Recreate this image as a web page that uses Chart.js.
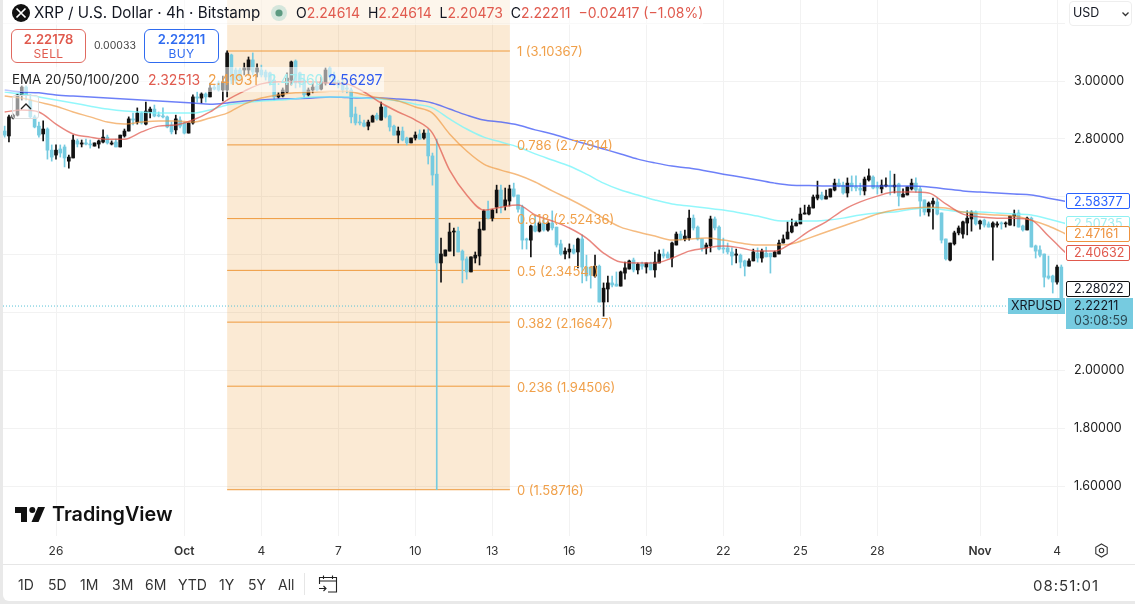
<!DOCTYPE html>
<html>
<head>
<meta charset="utf-8">
<title>XRPUSD</title>
<script src="https://cdn.jsdelivr.net/npm/chart.js@4"></script>
<style>
	html, body { margin: 0; padding: 0; background: #e9e9e9; font-family: Inter, sans-serif; color: #131722; overflow: hidden; }
	#card { position: absolute; left: 3px; top: 0; width: 1132px; height: 601px; background: #fff; border-bottom-left-radius: 6px; }
	#myChart { position: absolute; left: 0; top: 0; }
	.t { position: absolute; white-space: nowrap; line-height: 1; }
	.strip { position: absolute; background: rgba(255,255,255,.55); }
	.box { position: absolute; box-sizing: border-box; border-radius: 6px; border: 1px solid; text-align: center; line-height: 1; }
	.red { color: #e05a4e; }
	.org { color: #f0a04a; }
	.cyn { color: #a4eef0; }
	.blu { color: #2f5bf0; }
</style>
</head>
<body>
<div id="card"></div>
<canvas id="myChart" width="1135" height="604"></canvas>

<div class="strip" style="left:3px;top:0;width:700px;height:25px"></div>
<div class="strip" style="left:3px;top:67px;width:381px;height:25px"></div>

<svg style="position:absolute;left:12px;top:4px" width="18" height="18" viewBox="0 0 18 18">
	<circle cx="9" cy="9" r="9" fill="#111"/>
	<path d="M4.5 4.5 L13.5 13.5 M13.5 4.5 L4.5 13.5" stroke="#fff" stroke-width="1.7"/>
</svg>
<div class="t" style="left:34px;top:5px;font-size:15.2px">XRP / U.S. Dollar · 4h · Bitstamp</div>
<svg style="position:absolute;left:270px;top:4px" width="18" height="18" viewBox="0 0 18 18">
	<circle cx="9" cy="9" r="8" fill="#d4e6dc"/>
	<circle cx="9" cy="9" r="3.6" fill="#5c9a80"/>
</svg>
<div class="t" style="left:296px;top:6px;font-size:14px">O<span class="red">2.24614</span>&nbsp; H<span class="red">2.24614</span>&nbsp; L<span class="red">2.20473</span>&nbsp; C<span class="red">2.22211</span>&nbsp; <span class="red">−0.02417 (−1.08%)</span></div>

<div class="box" style="left:11px;top:29px;width:75px;height:34px;border-color:#e06a60;color:#e05a4e">
	<div style="font-size:13px;font-weight:600;margin-top:3px">2.22178</div>
	<div style="font-size:12px;letter-spacing:.4px;margin-top:2px">SELL</div>
</div>
<div class="t" style="left:94px;top:41px;font-size:10.5px;color:#444">0.00033</div>
<div class="box" style="left:144px;top:29px;width:75px;height:34px;border-color:#2f6bf0;color:#2f6bf0">
	<div style="font-size:13px;font-weight:600;margin-top:3px">2.22211</div>
	<div style="font-size:12px;letter-spacing:.4px;margin-top:2px">BUY</div>
</div>

<div class="t" style="left:12px;top:73px;font-size:13.3px;color:#222">EMA 20/50/100/200</div>
<div class="t red" style="left:148px;top:73px;font-size:14px">2.32513</div>
<div class="t org" style="left:208px;top:73px;font-size:14px">2.41931</div>
<div class="t cyn" style="left:268px;top:73px;font-size:14px">2.47560</div>
<div class="t blu" style="left:328px;top:73px;font-size:14px">2.56297</div>

<div style="position:absolute;left:12px;top:95px;width:27px;height:24px;box-sizing:border-box;border:1px solid #ddd;border-radius:3px;background:rgba(255,255,255,.55)">
	<svg style="position:absolute;left:6px;top:6px" width="14" height="9" viewBox="0 0 14 9"><path d="M2 7 L7 2 L12 7" fill="none" stroke="#222" stroke-width="1.3"/></svg>
</div>

<div style="position:absolute;left:1069px;top:1px;width:63px;height:25px;box-sizing:border-box;border:1px solid #eee;border-radius:4px"></div>
<div class="t" style="left:1073px;top:7px;font-size:12.5px">USD</div>
<svg style="position:absolute;left:1121px;top:11px" width="9" height="6" viewBox="0 0 9 6"><path d="M1.5 1.5 L4.5 4.5 L7.5 1.5" fill="none" stroke="#333" stroke-width="1.3"/></svg>

<svg style="position:absolute;left:14px;top:506px" width="32" height="17" viewBox="0 0 32 17">
	<path d="M1 1 H13 V16 H7 V7 H1 Z" fill="#111"/>
	<circle cx="18.3" cy="4" r="3" fill="#111"/>
	<path d="M24 1 H31 L24.5 16 H17.5 Z" fill="#111"/>
</svg>
<div class="t" style="left:52px;top:505px;font-size:19.8px;font-weight:600;color:#111">TradingView</div>

<svg style="position:absolute;left:1094px;top:543px" width="15" height="15" viewBox="0 0 15 15">
	<path d="M7.5 1 L13.2 4.2 V10.8 L7.5 14 L1.8 10.8 V4.2 Z" fill="none" stroke="#333" stroke-width="1.1"/>
	<circle cx="7.5" cy="7.5" r="2.2" fill="none" stroke="#333" stroke-width="1.1"/>
</svg>

<div style="position:absolute;left:3px;top:564px;width:1132px;height:1px;background:#e6e6e6"></div>
<div class="t" style="left:18px;top:578px;font-size:14px;color:#333">1D</div>
<div class="t" style="left:48px;top:578px;font-size:14px;color:#333">5D</div>
<div class="t" style="left:80px;top:578px;font-size:14px;color:#333">1M</div>
<div class="t" style="left:112px;top:578px;font-size:14px;color:#333">3M</div>
<div class="t" style="left:145px;top:578px;font-size:14px;color:#333">6M</div>
<div class="t" style="left:178px;top:578px;font-size:14px;color:#333">YTD</div>
<div class="t" style="left:219px;top:578px;font-size:14px;color:#333">1Y</div>
<div class="t" style="left:248px;top:578px;font-size:14px;color:#333">5Y</div>
<div class="t" style="left:278px;top:578px;font-size:14px;color:#333">All</div>
<div style="position:absolute;left:304px;top:573px;width:1px;height:22px;background:#e6e6e6"></div>
<svg style="position:absolute;left:318px;top:574px" width="20" height="20" viewBox="0 0 20 20">
	<path d="M1.5 10 V3.5 H18.5 V18 H10 M1.5 7 H18.5 M5.5 1.5 V5 M14.5 1.5 V5 M1 14.5 H8 M5.5 12 L8 14.5 L5.5 17" fill="none" stroke="#222" stroke-width="1.1"/>
</svg>
<div class="t" style="left:1033px;top:578px;font-size:15px;letter-spacing:1px;color:#333">08:51:01</div>

<script>
const opens = [
	2.827,2.810,2.872,2.882,2.952,2.979,2.934,2.876,2.844,2.817,
	2.834,2.761,2.744,2.765,2.772,2.723,2.734,2.793,2.782,2.786,
	2.782,2.775,2.782,2.789,2.806,2.782,2.789,2.772,2.810,2.827,
	2.869,2.858,2.889,2.851,2.893,2.903,2.882,2.879,2.876,2.848,
	2.831,2.865,2.855,2.820,2.855,2.945,2.941,2.955,2.945,2.979,
	2.993,2.969,2.969,3.090,3.038,3.038,3.038,3.038,3.073,3.031,
	3.038,3.031,3.028,3.003,2.945,2.948,2.962,3.003,3.069,3.028,
	3.003,2.952,2.969,2.983,2.972,2.993,3.045,3.021,2.997,2.993,
	2.976,2.969,2.886,2.858,2.855,2.844,2.858,2.882,2.865,2.910,
	2.879,2.844,2.813,2.827,2.803,2.786,2.803,2.817,2.803,2.820,
	2.741,2.678,2.371,2.395,2.412,2.478,2.481,2.412,2.385,2.340,
	2.388,2.395,2.485,2.551,2.526,2.564,2.623,2.568,2.585,2.627,
	2.606,2.564,2.454,2.450,2.499,2.481,2.509,2.485,2.509,2.495,
	2.437,2.402,2.409,2.419,2.409,2.454,2.357,2.357,2.326,2.360,
	2.236,2.281,2.302,2.298,2.291,2.336,2.350,2.381,2.347,2.367,
	2.357,2.371,2.347,2.371,2.402,2.402,2.388,2.433,2.471,2.454,
	2.457,2.526,2.495,2.454,2.423,2.430,2.523,2.495,2.423,2.423,
	2.409,2.398,2.398,2.378,2.360,2.378,2.405,2.388,2.405,2.405,
	2.392,2.402,2.440,2.454,2.478,2.499,2.506,2.540,2.540,2.561,
	2.595,2.606,2.592,2.599,2.623,2.647,2.640,2.613,2.647,2.634,
	2.630,2.620,2.658,2.668,2.634,2.627,2.637,2.640,2.634,2.644,
	2.599,2.606,2.627,2.647,2.627,2.589,2.547,2.575,2.582,2.544,
	2.454,2.381,2.437,2.475,2.471,2.509,2.523,2.547,2.506,2.519,
	2.506,2.495,2.502,2.509,2.506,2.502,2.533,2.544,2.499,2.485,
	2.526,2.430,2.416,2.402,2.326,2.326,2.305,2.357
];
const highs = [
	2.844,2.882,2.886,2.955,2.983,2.983,2.952,2.882,2.858,2.862,
	2.838,2.779,2.779,2.779,2.779,2.744,2.813,2.799,2.796,2.799,
	2.796,2.786,2.796,2.831,2.813,2.793,2.799,2.813,2.834,2.876,
	2.889,2.907,2.893,2.927,2.910,2.917,2.893,2.907,2.879,2.858,
	2.882,2.876,2.858,2.855,2.952,2.962,2.959,2.959,2.993,2.986,
	3.000,3.017,3.104,3.093,3.045,3.045,3.062,3.083,3.097,3.059,
	3.055,3.038,3.031,3.021,2.959,2.976,3.028,3.069,3.073,3.031,
	3.021,2.976,2.993,2.997,3.014,3.045,3.048,3.031,3.003,3.003,
	2.986,2.976,2.910,2.882,2.865,2.865,2.882,2.889,2.927,2.913,
	2.882,2.848,2.841,2.841,2.806,2.803,2.824,2.831,2.831,2.834,
	2.751,2.799,2.457,2.416,2.509,2.492,2.495,2.416,2.392,2.392,
	2.409,2.513,2.554,2.585,2.557,2.640,2.640,2.630,2.640,2.647,
	2.606,2.571,2.457,2.502,2.533,2.513,2.526,2.513,2.551,2.495,
	2.450,2.423,2.437,2.433,2.457,2.468,2.398,2.357,2.398,2.364,
	2.302,2.326,2.326,2.340,2.343,2.374,2.381,2.388,2.371,2.374,
	2.371,2.374,2.409,2.416,2.419,2.409,2.443,2.478,2.481,2.485,
	2.554,2.537,2.499,2.454,2.440,2.533,2.530,2.499,2.457,2.440,
	2.423,2.419,2.402,2.381,2.385,2.419,2.423,2.419,2.426,2.405,
	2.412,2.450,2.468,2.513,2.523,2.516,2.561,2.571,2.571,2.606,
	2.654,2.616,2.623,2.627,2.661,2.661,2.651,2.665,2.672,2.672,
	2.647,2.668,2.696,2.672,2.651,2.658,2.665,2.689,2.678,2.647,
	2.627,2.634,2.661,2.665,2.634,2.589,2.582,2.595,2.595,2.544,
	2.454,2.440,2.481,2.499,2.516,2.551,2.551,2.551,2.519,2.523,
	2.513,2.513,2.513,2.513,2.513,2.533,2.554,2.554,2.502,2.530,
	2.530,2.433,2.430,2.402,2.395,2.329,2.364,2.364
];
const lows = [
	2.806,2.789,2.869,2.879,2.934,2.934,2.872,2.838,2.806,2.793,
	2.730,2.723,2.730,2.737,2.703,2.699,2.734,2.772,2.772,2.779,
	2.768,2.775,2.768,2.786,2.782,2.779,2.772,2.772,2.806,2.827,
	2.848,2.851,2.851,2.848,2.872,2.876,2.876,2.872,2.838,2.817,
	2.817,2.838,2.817,2.820,2.851,2.927,2.924,2.927,2.945,2.969,
	2.965,2.931,2.945,2.990,2.993,3.003,3.021,3.021,3.021,3.014,
	3.014,3.003,2.986,2.934,2.941,2.945,2.959,2.986,2.976,2.979,
	2.941,2.948,2.959,2.965,2.969,2.986,3.003,2.986,2.976,2.962,
	2.959,2.855,2.848,2.848,2.841,2.831,2.858,2.865,2.865,2.872,
	2.827,2.813,2.786,2.793,2.779,2.786,2.796,2.799,2.799,2.713,
	2.640,1.587,2.305,2.395,2.412,2.395,2.409,2.302,2.315,2.340,
	2.371,2.364,2.485,2.523,2.516,2.544,2.544,2.554,2.568,2.599,
	2.547,2.419,2.419,2.392,2.478,2.478,2.481,2.481,2.485,2.426,
	2.398,2.385,2.388,2.402,2.354,2.302,2.309,2.284,2.322,2.236,
	2.187,2.236,2.288,2.291,2.291,2.315,2.350,2.340,2.333,2.350,
	2.336,2.347,2.322,2.371,2.388,2.388,2.357,2.433,2.450,2.447,
	2.450,2.485,2.450,2.412,2.402,2.409,2.485,2.416,2.405,2.402,
	2.364,2.371,2.354,2.326,2.360,2.378,2.374,2.374,2.392,2.336,
	2.392,2.402,2.440,2.454,2.475,2.499,2.506,2.540,2.537,2.561,
	2.589,2.589,2.592,2.599,2.620,2.634,2.609,2.599,2.620,2.620,
	2.606,2.606,2.654,2.627,2.609,2.613,2.634,2.606,2.613,2.568,
	2.599,2.606,2.623,2.616,2.533,2.537,2.533,2.488,2.537,2.440,
	2.381,2.378,2.433,2.468,2.457,2.468,2.481,2.502,2.488,2.495,
	2.495,2.381,2.495,2.488,2.495,2.502,2.499,2.495,2.481,2.485,
	2.426,2.388,2.392,2.288,2.315,2.267,2.298,2.205
];
const closes = [
	2.813,2.876,2.882,2.952,2.979,2.952,2.876,2.841,2.813,2.834,
	2.761,2.737,2.761,2.751,2.734,2.737,2.796,2.782,2.786,2.782,
	2.779,2.786,2.793,2.806,2.786,2.786,2.772,2.813,2.827,2.869,
	2.865,2.889,2.855,2.896,2.903,2.879,2.879,2.876,2.841,2.824,
	2.869,2.844,2.820,2.855,2.945,2.941,2.955,2.945,2.976,2.972,
	2.969,2.997,3.097,3.003,3.003,3.010,3.045,3.073,3.031,3.045,
	3.021,3.014,2.993,2.945,2.952,2.969,3.010,3.066,2.993,2.993,
	2.952,2.969,2.979,2.969,2.997,3.038,3.014,2.993,2.986,2.969,
	2.972,2.876,2.855,2.855,2.844,2.858,2.879,2.869,2.910,2.876,
	2.841,2.813,2.827,2.796,2.786,2.803,2.813,2.799,2.820,2.741,
	2.675,2.371,2.402,2.416,2.478,2.481,2.409,2.381,2.340,2.392,
	2.398,2.488,2.551,2.526,2.554,2.623,2.568,2.589,2.627,2.602,
	2.557,2.450,2.450,2.499,2.481,2.509,2.485,2.509,2.492,2.433,
	2.402,2.412,2.419,2.405,2.454,2.357,2.326,2.329,2.360,2.236,
	2.284,2.302,2.295,2.291,2.340,2.354,2.378,2.347,2.367,2.360,
	2.371,2.347,2.374,2.402,2.395,2.388,2.440,2.471,2.454,2.464,
	2.526,2.492,2.454,2.423,2.433,2.523,2.492,2.419,2.419,2.409,
	2.395,2.402,2.374,2.360,2.378,2.409,2.388,2.412,2.392,2.392,
	2.409,2.440,2.454,2.478,2.499,2.509,2.540,2.544,2.564,2.599,
	2.606,2.592,2.602,2.627,2.647,2.637,2.613,2.647,2.634,2.630,
	2.623,2.661,2.672,2.630,2.630,2.640,2.640,2.634,2.640,2.602,
	2.609,2.634,2.647,2.623,2.585,2.547,2.578,2.585,2.540,2.450,
	2.385,2.440,2.475,2.492,2.513,2.526,2.547,2.506,2.516,2.502,
	2.495,2.509,2.506,2.506,2.509,2.533,2.540,2.495,2.485,2.526,
	2.426,2.412,2.398,2.322,2.319,2.305,2.357,2.22211
];

// EMA readings, one every 4 bars
const emaStep = 4;
const ema20 = [
	2.893,2.900,2.893,2.851,2.817,2.806,2.799,2.799,2.824,2.844,
	2.848,2.865,2.893,2.934,2.965,2.990,2.997,2.997,2.997,2.993,
	2.990,2.962,2.924,2.893,2.865,2.820,2.692,2.606,2.554,2.564,
	2.571,2.537,2.516,2.492,2.457,2.405,2.374,2.371,2.371,2.388,
	2.412,2.423,2.430,2.423,2.412,2.412,2.440,2.481,2.513,2.554,
	2.582,2.602,2.616,2.616,2.613,2.575,2.540,2.530,2.526,2.526,
	2.519,2.464,2.40632
];
const ema50 = [
	2.948,2.941,2.927,2.913,2.893,2.876,2.858,2.851,2.858,2.862,
	2.862,2.858,2.872,2.889,2.920,2.941,2.952,2.959,2.962,2.965,
	2.965,2.952,2.941,2.931,2.910,2.889,2.817,2.758,2.713,2.692,
	2.675,2.651,2.620,2.592,2.561,2.526,2.495,2.478,2.464,2.450,
	2.454,2.457,2.450,2.440,2.433,2.433,2.437,2.457,2.478,2.499,
	2.519,2.540,2.554,2.561,2.564,2.561,2.547,2.540,2.537,2.533,
	2.519,2.499,2.47161
];
const ema100 = [
	2.962,2.955,2.945,2.934,2.924,2.913,2.903,2.896,2.893,2.889,
	2.889,2.889,2.900,2.917,2.924,2.931,2.934,2.939,2.945,2.945,
	2.945,2.941,2.938,2.931,2.920,2.907,2.869,2.834,2.806,2.789,
	2.772,2.748,2.727,2.706,2.678,2.647,2.623,2.606,2.589,2.575,
	2.568,2.561,2.554,2.544,2.533,2.519,2.516,2.516,2.519,2.526,
	2.537,2.544,2.547,2.557,2.561,2.554,2.547,2.547,2.544,2.540,
	2.537,2.523,2.50735
];
const ema200 = [
	2.969,2.962,2.959,2.952,2.948,2.945,2.941,2.938,2.934,2.931,
	2.927,2.924,2.920,2.924,2.931,2.934,2.938,2.939,2.941,2.945,
	2.943,2.941,2.941,2.938,2.934,2.924,2.903,2.882,2.865,2.858,
	2.848,2.831,2.817,2.799,2.782,2.765,2.748,2.730,2.717,2.706,
	2.699,2.689,2.678,2.668,2.658,2.647,2.640,2.639,2.637,2.637,
	2.637,2.637,2.637,2.637,2.634,2.627,2.620,2.616,2.613,2.609,
	2.606,2.595,2.58377
];

const fibLevels = ["1", "0.786", "0.618", "0.5", "0.382", "0.236", "0"];
const fibPrices = [3.10367, 2.77914, 2.52436, 2.34541, 2.16647, 1.94506, 1.58716];
const fibStartBar = 52;
const fibEndBar = 118.1;

const yTicks = [3.2, 3.0, 2.8, 2.6, 2.4, 2.2, 2.0, 1.8, 1.6];
const yLabelled = [3.0, 2.8, 2.0, 1.8, 1.6];
const xTickBars = [12, 42, 60, 78, 96, 114, 132, 150, 168, 186, 204, 228, 246];
const xTickLabels = ["26", "Oct", "4", "7", "10", "13", "16", "19", "22", "25", "28", "Nov", "4"];
const boldTicks = ["Oct", "Nov"];

const lastPrice = 2.22211;
const prevClose = 2.28022;
const countdown = "03:08:59";
const symbol = "XRPUSD";

const upColor = "#111111";
const downColor = "#76cbe0";
const fibColor = "#f0a04a";
const fontName = "Inter, sans-serif";

const emaBadges = [
	{ value: ema200[ema200.length - 1], color: "#2962ff", text: "#2962ff" },
	{ value: ema100[ema100.length - 1], color: "#8ff0f2", text: "#a0eef0" },
	{ value: ema50[ema50.length - 1], color: "#ee9340", text: "#ee9340" },
	{ value: ema20[ema20.length - 1], color: "#e0594d", text: "#e0594d" },
	{ value: prevClose, color: "#111111", text: "#131722" }
];

function emaDataset(values, color, order) {
	return {
		type: "line",
		data: values.map((v, k) => ({ x: k * emaStep, y: v })),
		borderColor: color,
		borderWidth: 1.5,
		pointRadius: 0,
		cubicInterpolationMode: "monotone",
		order: order
	};
}

function fibDataset(price) {
	return {
		type: "line",
		data: [{ x: fibStartBar, y: price }, { x: fibEndBar, y: price }],
		borderColor: "#ef9a3c",
		borderWidth: 1,
		pointRadius: 0,
		order: 9
	};
}

const candleColors = opens.map((o, i) => closes[i] >= o ? upColor : downColor);

const fibLabels = {
	id: "fibLabels",
	afterDatasetsDraw(chart) {
		const { ctx, scales: { x, y } } = chart;
		ctx.save();
		ctx.font = "13px " + fontName;
		ctx.fillStyle = fibColor;
		ctx.textBaseline = "middle";
		fibLevels.forEach((level, i) => {
			ctx.fillText(level + " (" + fibPrices[i].toFixed(5) + ")", x.getPixelForValue(fibEndBar) + 7, y.getPixelForValue(fibPrices[i]) + 1.5);
		});
		ctx.restore();
	}
};

const priceBadges = {
	id: "priceBadges",
	afterDraw(chart) {
		const { ctx, chartArea, scales: { y } } = chart;
		const left = chartArea.right + 1;
		ctx.save();
		ctx.font = "12.5px " + fontName;
		ctx.textBaseline = "middle";
		emaBadges.forEach(b => {
			const py = y.getPixelForValue(b.value);
			ctx.fillStyle = "#fff";
			ctx.strokeStyle = b.color;
			ctx.lineWidth = 1;
			ctx.beginPath();
			ctx.roundRect(left + 0.5, Math.round(py) - 7.5, 63, 15, 1.5);
			ctx.fill();
			ctx.stroke();
			ctx.fillStyle = b.text;
			ctx.fillText(b.value.toFixed(5), left + 8, py + 0.5);
		});

		const py = Math.round(y.getPixelForValue(lastPrice));
		ctx.fillStyle = downColor;
		ctx.fillRect(left, py - 8, 67, 31);
		ctx.fillRect(chartArea.right - 57, py - 8, 57, 16);
		ctx.fillStyle = "#131722";
		ctx.fillText(symbol, chartArea.right - 54, py + 0.5);
		ctx.fillText(lastPrice.toFixed(5), left + 8, py + 0.5);
		ctx.fillStyle = "#2c4a55";
		ctx.fillText(countdown, left + 8, py + 15.5);
		ctx.restore();
	}
};

new Chart(document.getElementById("myChart"), {
	type: "bar",
	data: {
		datasets: [
			emaDataset(ema20, "rgba(224,89,77,.72)", 1),
			emaDataset(ema50, "rgba(240,150,60,.65)", 2),
			emaDataset(ema100, "rgba(120,245,250,.8)", 3),
			emaDataset(ema200, "rgba(60,85,245,.75)", 4),
			{
				data: opens.map((o, i) => ({ x: i, y: [o, closes[i]] })),
				backgroundColor: candleColors,
				barThickness: 3,
				minBarLength: 1,
				grouped: false,
				order: 5
			},
			{
				data: lows.map((l, i) => ({ x: i, y: [l, highs[i]] })),
				backgroundColor: candleColors,
				barThickness: 1,
				grouped: false,
				order: 6
			},
			{
				type: "line",
				data: [{ x: -0.39, y: lastPrice }, { x: 234.5, y: lastPrice }],
				borderColor: "#56c2d6",
				borderWidth: 1,
				borderDash: [1, 2],
				pointRadius: 0,
				order: 8
			},
			...fibPrices.map(fibDataset),
			{
				// shaded range, from the bottom level up to the top of the pane
				type: "line",
				data: [{ x: fibStartBar, y: 3.28 }, { x: fibEndBar, y: 3.28 }],
				borderWidth: 0,
				pointRadius: 0,
				backgroundColor: "rgba(235,150,40,.2)",
				fill: { value: fibPrices[6] },
				order: 10
			}
		]
	},
	options: {
		responsive: false,
		animation: false,
		events: [],
		layout: { padding: { left: 3, right: 0, top: 0, bottom: 0 } },
		plugins: { legend: { display: false }, tooltip: { enabled: false } },
		scales: {
			x: {
				type: "linear",
				offset: false,
				min: -0.39,
				max: 247.86,
				grid: { color: "#f2f2f2", offset: false, drawTicks: false },
				border: { display: false },
				afterBuildTicks: scale => { scale.ticks = xTickBars.map(v => ({ value: v })); },
				afterFit: scale => {
					scale.height = 68;
					scale.paddingLeft = 0;
					scale.paddingRight = 0;
				},
				ticks: {
					autoSkip: false,
					maxRotation: 0,
					padding: 8,
					color: "#333",
					font: ctx => ({ family: fontName, size: 12, weight: ctx.tick && boldTicks.includes(ctx.tick.label) ? "600" : "400" }),
					callback: value => xTickLabels[xTickBars.indexOf(value)]
				}
			},
			y: {
				position: "right",
				min: 1.42723,
				max: 3.28,
				grid: { color: "#f2f2f2", drawTicks: false },
				border: { display: false },
				afterBuildTicks: scale => { scale.ticks = yTicks.map(v => ({ value: v })); },
				afterFit: scale => {
					scale.width = 70;
					scale.paddingTop = 0;
					scale.paddingBottom = 0;
				},
				ticks: {
					padding: 9,
					color: "#222",
					font: { family: fontName, size: 12.5 },
					callback: value => yLabelled.includes(value) ? value.toFixed(5) : ""
				}
			}
		}
	},
	plugins: [fibLabels, priceBadges]
});
</script>
</body>
</html>
